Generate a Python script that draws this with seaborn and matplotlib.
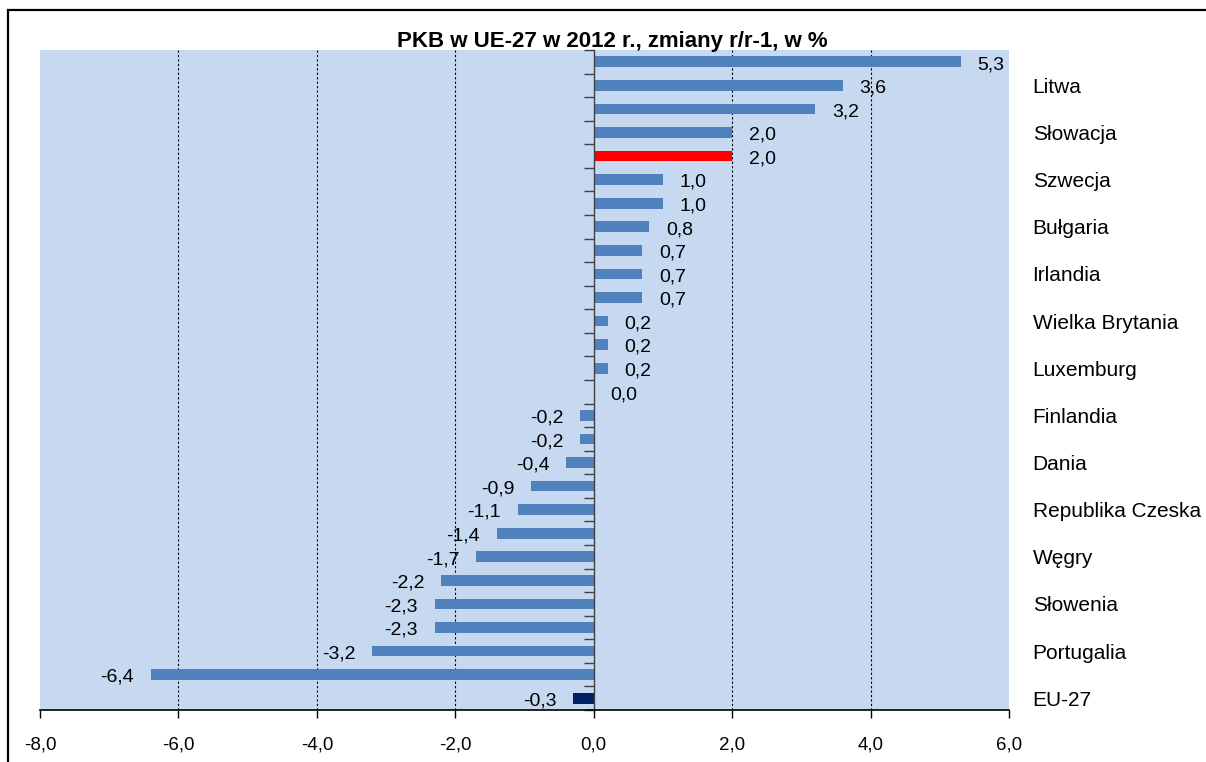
import numpy as np
import pandas as pd
import matplotlib
matplotlib.use("Agg")
import matplotlib.pyplot as plt
from matplotlib.patches import Rectangle
from matplotlib.ticker import FuncFormatter
import seaborn as sns

# GDP change 2012 vs 2011, in %, sorted as in the source chart (EU-27 last)
countries = ["Łotwa", "Litwa", "Estonia", "Słowacja", "Polska", "Szwecja", "Malta",
             "Bułgaria", "Rumunia", "Irlandia", "Niemcy", "Wielka Brytania", "Austria",
             "Luxemburg", "Francja", "Finlandia", "Belgia", "Dania", "Holandia",
             "Republika Czeska", "Hiszpania", "Węgry", "Włochy", "Słowenia", "Cypr",
             "Portugalia", "Grecja", "EU-27"]
values = [5.3, 3.6, 3.2, 2.0, 2.0, 1.0, 1.0, 0.8, 0.7, 0.7, 0.7, 0.2, 0.2, 0.2,
          0.0, -0.2, -0.2, -0.4, -0.9, -1.1, -1.4, -1.7, -2.2, -2.3, -2.3, -3.2,
          -6.4, -0.3]
# only every second country is named on the right-hand side
shown_labels = [c if i % 2 == 1 else "" for i, c in enumerate(countries)]
x_ticks = [-8, -6, -4, -2, 0, 2, 4, 6]
grid_ticks = [-6, -4, -2, 2, 4]

title = "PKB w UE-27 w 2012 r., zmiany r/r-1, w %"

plt.rcParams["font.family"] = ["Liberation Sans", "DejaVu Sans"]
plt.rcParams["axes.unicode_minus"] = False

df = pd.DataFrame({"kraj": countries, "pkb": values})
palette = {c: "#4F81BD" for c in countries}
palette["Polska"] = "#FF0000"
palette["EU-27"] = "#002060"

fig = plt.figure(figsize=(12.06, 7.62), dpi=100)
W, H = 1206, 762
ax = fig.add_axes([40 / W, (H - 710) / H, (1009 - 40) / W, 660 / H])
ax.set_facecolor("#C6D9F0")

sns.barplot(data=df, y="kraj", x="pkb", hue="kraj", palette=palette,
            orient="h", width=0.45, saturation=1, legend=False, ax=ax)

ax.set_xlim(-8, 6)
ax.set_ylim(len(countries) - 0.5, -0.5)

# dotted vertical gridlines
for g in grid_ticks:
    ax.axvline(g, color="black", linestyle=(0, (2, 2)), linewidth=0.8, zorder=0.5)

# value labels
for i, v in enumerate(values):
    txt = f"{v:.1f}".replace(".", ",")
    if v < 0:
        ax.annotate(txt, (v, i), xytext=(-12, -2), textcoords="offset points",
                    ha="right", va="center", fontsize=14)
    else:
        ax.annotate(txt, (v, i), xytext=(12, -2), textcoords="offset points",
                    ha="left", va="center", fontsize=14)

# axes styling
for s in ["top", "right"]:
    ax.spines[s].set_visible(False)
ax.spines["left"].set_position(("data", 0))
ax.spines["left"].set_color("#404040")
ax.spines["left"].set_linewidth(1.0)
ax.spines["bottom"].set_color("black")
ax.spines["bottom"].set_linewidth(1.2)

ax.set_xticks(x_ticks)
ax.xaxis.set_major_formatter(FuncFormatter(lambda x, p: f"{x:.1f}".replace(".", ",")))
ax.tick_params(axis="x", direction="out", length=6, width=1, pad=13,
               labelsize=13.5, color="black")

ax.set_yticks(range(len(countries)))
ax.set_yticklabels(shown_labels)
ax.set_yticks(np.arange(-0.5, len(countries), 1), minor=True)
ax.tick_params(axis="y", which="major", left=False, right=False,
               labelleft=False, labelright=True, pad=13.5, labelsize=15)
ax.tick_params(axis="y", which="minor", left=True, direction="out",
               length=7, width=1, color="#404040")
ax.set_xlabel("")
ax.set_ylabel("")

fig.text(612 / W, 1 - 42 / H, title, ha="center", va="center",
         fontsize=16, fontweight="bold")

# outer frame of the chart object
fig.patches.append(Rectangle((8 / W, -0.1), 1.2, 1.1 - 10 / H,
                             transform=fig.transFigure, fill=False,
                             edgecolor="black", linewidth=1.6))

fig.savefig("out.png", dpi=100)
